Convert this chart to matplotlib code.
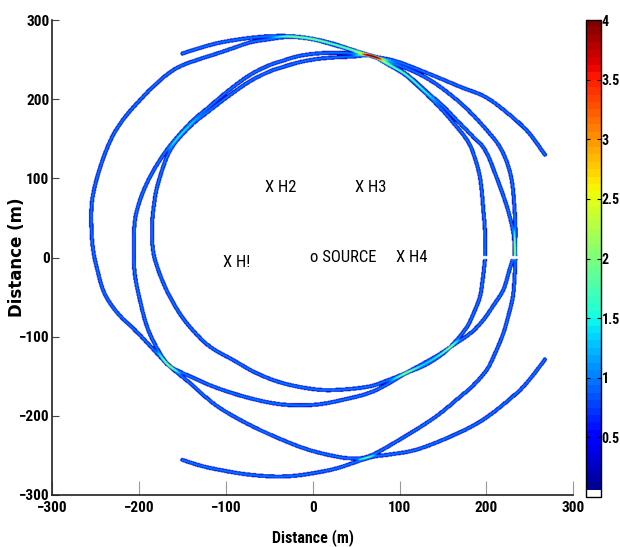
import numpy as np
import matplotlib as mpl
mpl.use('Agg')
import matplotlib.pyplot as plt
from matplotlib.colors import ListedColormap
from matplotlib import font_manager as fm

# curves (x, y in metres), each one traced in order
o_x = [231, 226, 220, 209, 197, 183, 166, 147, 128, 108, 85, 66, 43, 5, -34, -72, -110, -140, -164, -176, -200,
       -225, -240, -248, -253, -255, -254, -246, -233, -218, -199, -178, -156, -130, -110, -91, -72, -50, -26,
       0, 24, 46, 68, 97, 123, 147, 175, 201, 218, 229, 233, 234, 233]
o_y = [-2, -20, -41, -60, -79, -95, -108, -122, -134, -146, -161, -171, -178, -186, -186, -178, -165, -151, -138, -125, -97,
       -70, -45, -16, 10, 40, 73, 110, 148, 175, 199, 222, 240, 251, 258, 265, 272, 276, 279,
       276, 269, 262, 255, 244, 232, 216, 191, 161, 136, 102, 60, 30, 2]

m_x = [234, 233, 231, 226, 220, 211, 201, 185, 166, 140, 101, 66, 45, 24, -5, -34, -72, -110, -140, -164, -176,
       -190, -199, -205, -206, -204, -191, -168, -141, -122, -97, -72, -50, -34, -15, 5, 25, 45, 68,
       87, 108, 131, 150, 166, 183, 199, 212, 224, 231, 233, 234]
m_y = [-2, -25, -50, -73, -96, -120, -142, -162, -180, -203, -230, -251, -254, -251, -243, -231, -212, -188, -160, -138, -121,
       -90, -54, -20, 10, 52, 94, 136, 170, 188, 211, 231, 243, 249, 255, 258, 259, 258, 255,
       245, 232, 210, 192, 174, 155, 136, 102, 65, 35, 15, 2]

i_x = [199, 196, 193, 186, 178, 165, 151, 130, 108, 85, 66, 35, 5, -34, -65, -91, -118, -138, -153, -168, -179,
       -184, -185, -183, -178, -164, -141, -122, -97, -72, -50, -34, -15, 5, 25, 45, 68,
       87, 108, 131, 150, 165, 176, 184, 193, 197, 199, 199]
i_y = [-2, -30, -50, -70, -88, -106, -121, -136, -146, -156, -163, -167, -167, -159, -146, -130, -113, -92, -71, -42, -12,
       10, 39, 65, 94, 136, 166, 183, 204, 223, 235, 241, 247, 251, 253, 254, 255,
       244, 230, 207, 186, 167, 152, 136, 102, 60, 30, 2]

t_x = [-150, -130, -110, -90, -70, -48, -26, -2, 22, 45, 68, 97, 135, 170, 201, 231, 250, 268]
t_y = [258, 265, 271, 275, 278, 280, 280, 277, 271, 263, 255, 248, 232, 216, 202, 177, 157, 130]

b_x = [-150, -130, -110, -78, -45, -20, 5, 30, 66, 90, 120, 160, 197, 235, 252, 268]
b_y = [-256, -263, -268, -274, -277, -276, -272, -266, -253, -249, -243, -226, -205, -172, -152, -129]

curves = [(o_x, o_y), (m_x, m_y), (i_x, i_y), (t_x, t_y), (b_x, b_y)]

lab_text = ['X H!', 'X H2', 'X H3', 'X H4', 'o SOURCE']
lab_x = [-104, -55, 49, 96, -3]
lab_y = [-6, 88, 88, 0, 0]

cb_ticks = [0.5, 1, 1.5, 2, 2.5, 3, 3.5, 4]


def smooth(xs, ys, n=6):
    # Catmull-Rom through the traced points, only to draw them as a smooth trace
    p = np.column_stack([xs, ys]).astype(float)
    p = np.vstack([2 * p[0] - p[1], p, 2 * p[-1] - p[-2]])
    t = np.linspace(0, 1, n, endpoint=False)[:, None]
    out = []
    for k in range(1, len(p) - 2):
        p0, p1, p2, p3 = p[k - 1], p[k], p[k + 1], p[k + 2]
        out.append(0.5 * (2 * p1 + (p2 - p0) * t + (2 * p0 - 5 * p1 + 4 * p2 - p3) * t ** 2
                          + (3 * p1 - p0 - 3 * p2 + p3) * t ** 3))
    out.append(p[-2][None])
    return np.vstack(out)


# rasterise the traces: each trace adds ~1 along a thin band, overlaps add up
sx, sy = 0.868, 0.792   # px per metre
h = 0.75
g = np.arange(-300, 300 + h / 2, h)
X, Y = np.meshgrid(g, g)
img = np.zeros_like(X)
w = 1.55   # px
mg = 8.0
for cx, cy in curves:
    pts = smooth(cx, cy)
    dmin = np.full(X.shape, 1e9)
    for k in range(len(pts) - 1):
        (x0, y0), (x1, y1) = pts[k], pts[k + 1]
        c0 = max(int((min(x0, x1) - mg + 300) / h), 0)
        c1 = min(int((max(x0, x1) + mg + 300) / h) + 1, len(g))
        r0 = max(int((min(y0, y1) - mg + 300) / h), 0)
        r1 = min(int((max(y0, y1) + mg + 300) / h) + 1, len(g))
        xx = (X[r0:r1, c0:c1] - x0) * sx
        yy = (Y[r0:r1, c0:c1] - y0) * sy
        vx, vy = (x1 - x0) * sx, (y1 - y0) * sy
        t = np.clip((xx * vx + yy * vy) / max(vx * vx + vy * vy, 1e-9), 0, 1)
        d = np.hypot(xx - t * vx, yy - t * vy)
        dmin[r0:r1, c0:c1] = np.minimum(dmin[r0:r1, c0:c1], d)
    img += np.exp(-(dmin / w) ** 4)
# the traces break on the x axis at the right-hand side
img[(np.abs(Y) < 2.0) & (X > 150)] = 0

jet = plt.get_cmap('jet', 64)(np.arange(64))
jet[0] = [1, 1, 1, 1]
cmap = ListedColormap(jet)


def have(name):
    try:
        fm.findfont(fm.FontProperties(family=name), fallback_to_default=False)
        return True
    except ValueError:
        return False


narrow = 'Liberation Sans'
scale = 0.85
for cand in ['Liberation Sans Narrow', 'Roboto Condensed', 'Open Sans Condensed', 'DejaVu Sans Condensed']:
    if have(cand):
        narrow, scale = cand, 1.0
        break

fig = plt.figure(figsize=(6.2, 5.47), dpi=100)
ax = fig.add_axes([0.0844, 0.0951, 0.8403, 0.8683])
im = ax.imshow(img, extent=[-300, 300, -300, 300], origin='lower', aspect='auto',
               cmap=cmap, vmin=0, vmax=4, interpolation='bilinear', interpolation_stage='rgba')
ax.set_xlim(-300, 300)
ax.set_ylim(-300, 300)
ax.set_xticks([-300, -200, -100, 0, 100, 200, 300])
ax.set_yticks([-300, -200, -100, 0, 100, 200, 300])
for s in ['top', 'right']:
    ax.spines[s].set_visible(False)
for s in ['left', 'bottom']:
    ax.spines[s].set_color('#222222')
    ax.spines[s].set_linewidth(1.2)
ax.tick_params(axis='x', direction='in', length=10, color='#999999', pad=4)
ax.tick_params(axis='y', direction='in', length=5, color='#444444', pad=2)
for lb in ax.get_xticklabels() + ax.get_yticklabels():
    lb.set_family(narrow)
    lb.set_fontweight('bold')
    lb.set_fontsize(11 * scale)

for s, x, y in zip(lab_text, lab_x, lab_y):
    ax.text(x, y, s, family=narrow, fontsize=12 * scale, ha='left', va='center')

ax.set_xlabel('Distance (m)', family=narrow, fontweight='bold', fontsize=11.5 * scale)
ax.xaxis.set_label_coords(0.5, -0.072)
ax.set_ylabel('Distance (m)', family='DejaVu Sans', fontweight='bold', fontsize=12)
ax.yaxis.set_label_coords(-0.05, 0.5)

cax = fig.add_axes([0.945, 0.0914, 0.0242, 0.872])
cb = fig.colorbar(im, cax=cax, ticks=cb_ticks)
cb.ax.set_yticklabels(['%g' % v for v in cb_ticks])
cb.outline.set_edgecolor('black')
cb.outline.set_linewidth(1)
cax.tick_params(direction='in', left=True, right=True, length=3, pad=0.5)
for lb in cax.get_yticklabels():
    lb.set_family(narrow)
    lb.set_fontweight('bold')
    lb.set_fontsize(10 * scale)

fig.savefig('out.png', dpi=100)
